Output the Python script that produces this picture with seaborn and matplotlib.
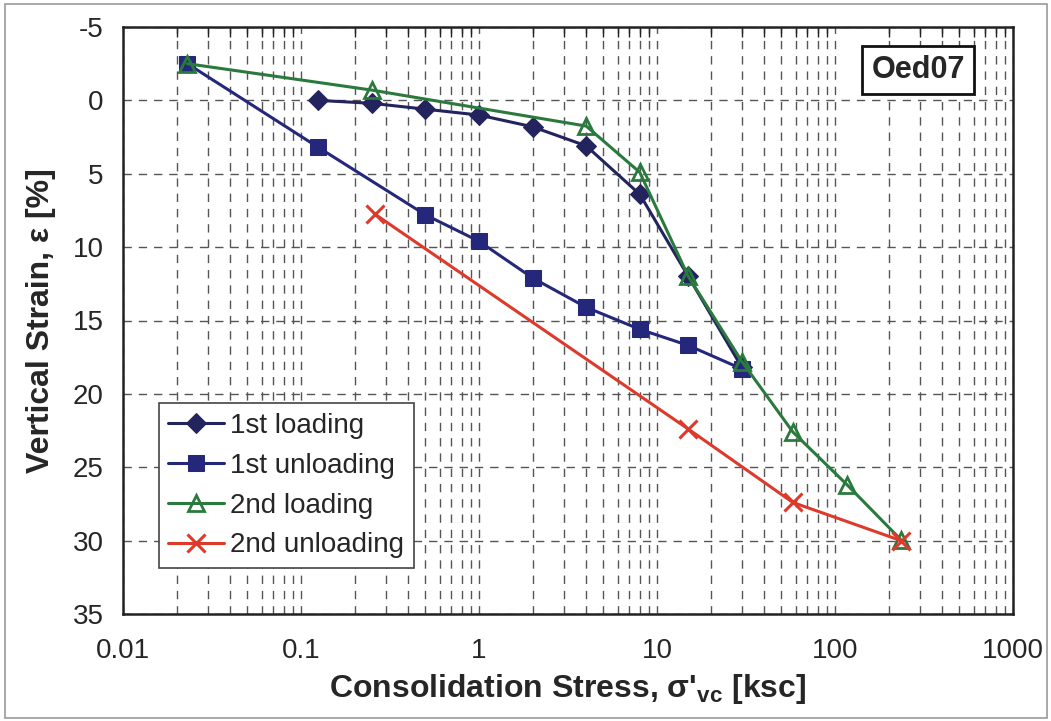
import matplotlib
matplotlib.use("Agg")
import matplotlib.pyplot as plt
import matplotlib.patches as mpatches
from matplotlib.ticker import LogLocator, MultipleLocator, FuncFormatter, NullFormatter
import seaborn as sns
import pandas as pd

sns.set_theme(style="white")
plt.rcParams["font.family"] = ["Liberation Sans", "DejaVu Sans"]
plt.rcParams["axes.unicode_minus"] = False

# Oedometer test Oed07: consolidation stress [ksc] vs vertical strain [%]
load1_stress = [0.125, 0.25, 0.5, 1, 2, 4, 8, 15, 30]
load1_strain = [0.0, 0.2, 0.6, 1.0, 1.8, 3.1, 6.4, 12.0, 18.2]

unload1_stress = [30, 15, 8, 4, 2, 1, 0.5, 0.125, 0.023]
unload1_strain = [18.3, 16.7, 15.6, 14.1, 12.1, 9.6, 7.8, 3.2, -2.5]

load2_stress = [0.023, 0.25, 4, 8, 15, 30, 58, 117, 235]
load2_strain = [-2.5, -0.7, 1.75, 4.9, 12.0, 17.8, 22.6, 26.2, 29.95]

unload2_stress = [235, 58, 15, 0.26]
unload2_strain = [30.0, 27.4, 22.4, 7.75]

series_names = ["1st loading", "1st unloading", "2nd loading", "2nd unloading"]
colors = ["#23235e", "#25287a", "#2a7a3e", "#dd3a2c"]

frames = []
for name, xs, ys in zip(series_names,
                        [load1_stress, unload1_stress, load2_stress, unload2_stress],
                        [load1_strain, unload1_strain, load2_strain, unload2_strain]):
    frames.append(pd.DataFrame({"stress": xs, "strain": ys, "series": name}))
df = pd.concat(frames, ignore_index=True)

fig = plt.figure(figsize=(10.51, 7.21), dpi=100)
ax = fig.add_axes([123 / 1051, 1 - 614 / 721, (1013 - 123) / 1051, (614 - 27) / 721])

# outer chart frame
fig.patches.append(mpatches.Rectangle((5 / 1051, 3 / 721), 1042 / 1051, 714 / 721,
                                      transform=fig.transFigure, fill=False,
                                      edgecolor="#999999", linewidth=1.2))

marker_kw = {
    "1st loading": dict(marker="D", markersize=10, markerfacecolor=colors[0], markeredgecolor=colors[0]),
    "1st unloading": dict(marker="s", markersize=12, markerfacecolor=colors[1], markeredgecolor=colors[1]),
    "2nd loading": dict(marker="^", markersize=12, markerfacecolor="none", markeredgecolor=colors[2], markeredgewidth=2),
    "2nd unloading": dict(marker="x", markersize=13, markeredgecolor=colors[3], markeredgewidth=2.2),
}

for name, col in zip(series_names, colors):
    sub = df[df["series"] == name]
    sns.lineplot(data=sub, x="stress", y="strain", sort=False, estimator=None,
                 color=col, linewidth=2.2, ax=ax, label=name, **marker_kw[name])

ax.set_xscale("log")
ax.set_xlim(0.01, 1000)
ax.set_ylim(35, -5)

ax.xaxis.set_major_locator(LogLocator(base=10, numticks=10))
ax.xaxis.set_minor_locator(LogLocator(base=10, subs=range(2, 10), numticks=100))
ax.xaxis.set_major_formatter(FuncFormatter(lambda v, p: f"{v:g}"))
ax.xaxis.set_minor_formatter(NullFormatter())
ax.yaxis.set_major_locator(MultipleLocator(5))
ax.yaxis.set_minor_locator(MultipleLocator(1))

ax.grid(which="major", axis="both", linestyle=(0, (6, 5)), color="#555555", linewidth=1)
ax.grid(which="minor", axis="x", linestyle=(0, (6, 5)), color="#555555", linewidth=1)

ax.tick_params(axis="x", which="major", direction="inout", length=10, width=1.2,
               labelsize=20, pad=12, top=False, color="#222222")
ax.tick_params(axis="x", which="minor", direction="in", length=7, width=1, top=True, color="#222222")
ax.tick_params(axis="y", which="major", direction="inout", length=12, width=1.2,
               labelsize=20, pad=8, color="#222222")
ax.tick_params(axis="y", which="minor", direction="in", length=6, width=1, color="#222222")
for s in ax.spines.values():
    s.set_color("#222222")
    s.set_linewidth(1.8)

ax.set_xlabel("Consolidation Stress, σ'$_{\\mathregular{vc}}$ [ksc]", fontsize=23,
              fontweight="bold", labelpad=6)
ax.set_ylabel("Vertical Strain, ε [%]", fontsize=23, fontweight="bold", labelpad=12)

leg = ax.legend(loc="lower left", bbox_to_anchor=(0.04, 0.078), fontsize=20,
                frameon=True, fancybox=False, edgecolor="#444444", framealpha=1,
                handlelength=2.0, handletextpad=0.22, labelspacing=0.5,
                borderpad=0.35, borderaxespad=0)
leg.get_frame().set_linewidth(1.2)

ax.text(0.946, 0.952, "Oed07", transform=ax.transAxes, ha="right", va="top",
        fontsize=22, fontweight="bold",
        bbox=dict(boxstyle="square,pad=0.3", facecolor="white", edgecolor="#111111", linewidth=2))

fig.savefig("out.png", dpi=100)
